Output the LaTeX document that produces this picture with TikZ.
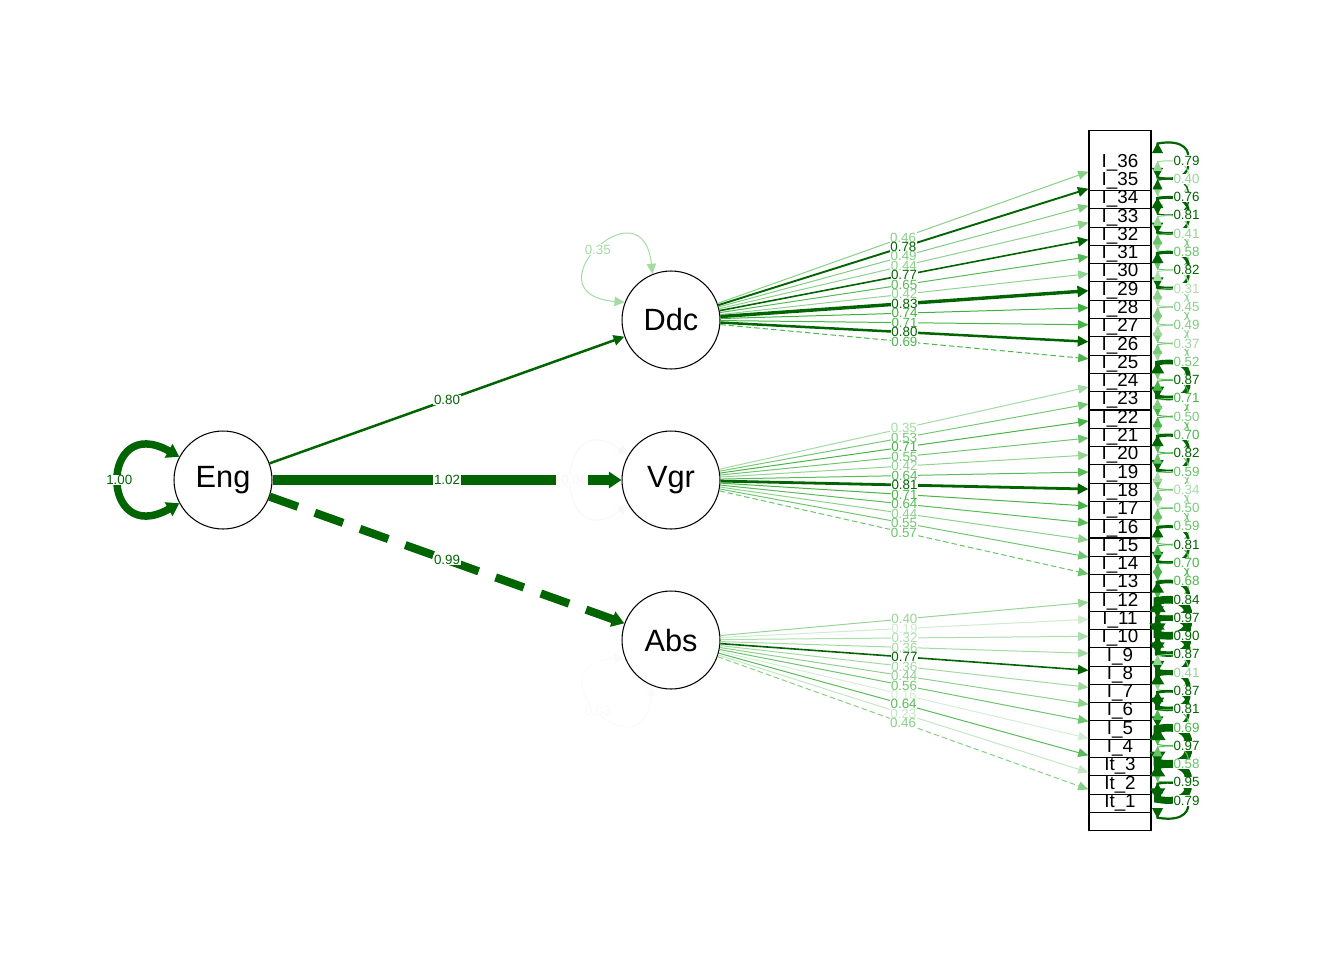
\documentclass[tikz,border=0pt]{standalone}
\usepackage{fontspec}
\setmainfont{Liberation Sans}
\usetikzlibrary{arrows.meta, calc}

\definecolor{lowgreen}{HTML}{009900}
\definecolor{highgreen}{HTML}{006400}
\definecolor{negred}{HTML}{C00000}

% colour and width of an edge from its weight
\newcommand\edgelook[1]{%
  \pgfmathtruncatemacro\overcut{#1>0.75}%
  \ifnum\overcut=1
    \colorlet{ec}{highgreen}%
    \pgfmathsetmacro\ew{0.02*(1+30*(#1-0.75))}%
  \else
    \pgfmathsetmacro\pct{100*#1/0.98}%
    \colorlet{ec}{lowgreen!\pct!white}%
    \def\ew{0.02}%
  \fi}

\tikzset{
  latent/.style={circle, draw, line width=0.6pt, minimum size=1.96cm, inner sep=0pt,
    font=\fontsize{17.5}{17.5}\selectfont},
  manifest/.style={rectangle, draw, fill=white, line width=0.6pt,
    minimum width=1.24cm, minimum height=1.2cm, inner sep=0pt},
  itemtext/.style={inner sep=0pt, font=\fontsize{10.7}{10.7}\selectfont},
  wlabel/.style={fill=white, inner sep=0.3pt, font=\fontsize{7.6}{7.6}\selectfont},
  edgetip/.style={-{Triangle[length=0.2cm 0.3, width=0.16cm 0.9]}},
  looptip/.style={{Triangle[length=0.2cm 0.3, width=0.17cm 0.9]}-{Triangle[length=0.2cm 0.3, width=0.17cm 0.9]}},
  fixedthin/.style={dash pattern=on 0.11cm off 0.06cm},
  fixedthick/.style={dash pattern=on 0.6cm off 0.36cm},
}

% item / loading / residual
\def\itemlist{36/0.46/0.79, 35/0.78/0.40, 34/0.49/0.76, 33/0.44/0.81, 32/0.77/0.41,
  31/0.65/0.58, 30/0.42/0.82, 29/0.83/0.31, 28/0.74/0.45, 27/0.71/0.49, 26/0.80/0.37,
  25/0.69/0.52, 24/0.35/0.87, 23/0.53/0.71, 22/0.71/0.50, 21/0.55/0.70, 20/0.42/0.82,
  19/0.64/0.59, 18/0.81/0.34, 17/0.71/0.50, 16/0.64/0.59, 15/0.44/0.81, 14/0.55/0.70,
  13/0.57/0.68, 12/0.40/0.84, 11/0.19/0.97, 10/0.32/0.90, 9/0.36/0.87, 8/0.77/0.41,
  7/0.36/0.87, 6/0.44/0.81, 5/0.56/0.69, 4/0.16/0.97, 3/0.64/0.58, 2/0.23/0.95, 1/0.46/0.79}

\begin{document}
\begin{tikzpicture}[x=0.02cm, y=-0.02cm]
	\useasboundingbox (0,0) rectangle (1344,960);

	\node[latent] (Eng) at (223,480) {Eng};
	\node[latent] (Ddc) at (671,320) {Ddc};
	\node[latent] (Vgr) at (671,480) {Vgr};
	\node[latent] (Abs) at (671,640) {Abs};

	% boxes from the bottom up, each one hides the top of the one below
	\foreach \num in {1,...,36}{
		\ifnum\num<4 \def\pre{It}\else\def\pre{I}\fi
		\node[manifest] (\pre\num) at (1120,{160.5+18.29*(36-\num)}) {};
	}
	\foreach \num in {1,...,36}{
		\ifnum\num<4 \def\pre{It}\else\def\pre{I}\fi
		\node[itemtext] (t\num) at ($(\pre\num)+(0,2)$) {\pre\_\num};
	}

	% loadings
	\foreach \num/\ld/\rs in \itemlist{
		\ifnum\num<4 \def\pre{It}\else\def\pre{I}\fi
		\ifnum\num>24 \def\lat{Ddc}\else\ifnum\num>12 \def\lat{Vgr}\else\def\lat{Abs}\fi\fi
		\ifnum\num=25 \tikzset{thisdash/.style={fixedthin}}
		\else\ifnum\num=13 \tikzset{thisdash/.style={fixedthin}}
		\else\ifnum\num=1 \tikzset{thisdash/.style={fixedthin}}
		\else \tikzset{thisdash/.style={solid}}\fi\fi\fi
		\edgelook{\ld}
		\draw[edgetip, thisdash, draw=ec, line width=\ew cm] (\lat) -- coordinate[pos=0.5] (m\num) (\pre\num);
	}
	\foreach \num/\ld/\rs in \itemlist{
		\edgelook{\ld}
		\node[wlabel, text=ec] (l\num) at (m\num) {\ld};
	}

	% residuals of the items
	\foreach \num/\ld/\rs in \itemlist{
		\ifnum\num<4 \def\pre{It}\else\def\pre{I}\fi
		\edgelook{\rs}
		\draw[looptip, draw=ec, line width=\ew cm]
			($(\pre\num.east)+(6,-18)$) -- ++(0,1)
			.. controls +(28,-5) and +(3,-8) .. ($(\pre\num.east)+(36,0)$)
			.. controls +(3,8) and +(28,5) .. ($(\pre\num.east)+(6,17)$) -- ++(0,1);
	}
	\foreach \num/\ld/\rs in \itemlist{
		\ifnum\num<4 \def\pre{It}\else\def\pre{I}\fi
		\edgelook{\rs}
		\node[wlabel, text=ec] (r\num) at ($(\pre\num.east)+(35,0)$) {\rs};
	}

	% structural paths
	\edgelook{0.80}
	\draw[edgetip, draw=ec, line width=\ew cm] (Eng) -- node[wlabel, text=ec] (lDdc) {0.80} (Ddc);
	\edgelook{1.02}
	\draw[edgetip, draw=ec, line width=\ew cm] (Eng) -- node[wlabel, text=ec] (lVgr) {1.02} (Vgr);
	\edgelook{0.99}
	\draw[edgetip, fixedthick, draw=ec, line width=\ew cm] (Eng) -- node[wlabel, text=ec] (lAbs) {0.99} (Abs);

	% variances of the latents
	\edgelook{1.00}
	\draw[looptip, draw=ec, line width=0.15cm] (Eng.152) .. controls +(-80,-45) and +(-80,45) .. node[wlabel, text=ec] (vEng) {1.00} (Eng.208);
	\edgelook{0.35}
	\draw[looptip, draw=ec, line width=\ew cm] (Ddc.112) .. controls +(-10,-95) and +(-99,-8) .. node[wlabel, text=ec] (vDdc) {0.35} (Ddc.159);
	\colorlet{ec}{negred!4!white}
	\draw[looptip, draw=ec, line width=0.02cm] (Vgr.150) .. controls +(-75,-55) and +(-75,55) .. node[wlabel, text=ec] (vVgr) {-0.04} (Vgr.210);
	\edgelook{0.03}
	\draw[looptip, draw=ec, line width=\ew cm] (Abs.248) .. controls +(-10,95) and +(-99,8) .. node[wlabel, text=ec] (vAbs) {0.03} (Abs.201);

\end{tikzpicture}
\end{document}
